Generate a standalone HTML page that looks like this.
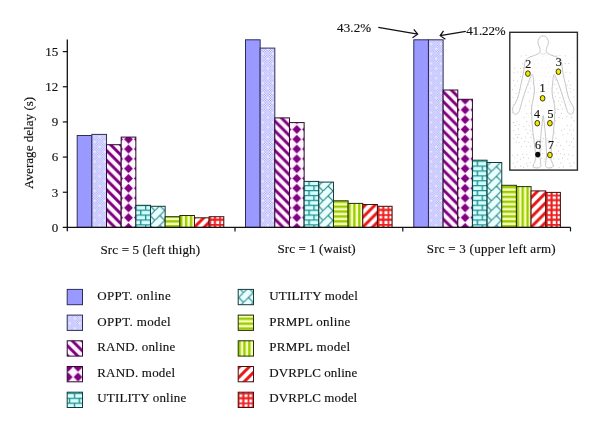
<!DOCTYPE html>
<html><head><meta charset="utf-8"><title>Average delay</title>
<style>
html,body{margin:0;padding:0;background:#fff;}
svg{display:block;}
.t{font-family:"Liberation Serif","DejaVu Serif",serif;font-size:13px;fill:#111;stroke:#111;stroke-width:0.15px;}
.n{font-family:"Liberation Serif","DejaVu Serif",serif;font-size:12px;fill:#111;stroke:#111;stroke-width:0.15px;}
</style></head><body>
<svg width="600" height="430" viewBox="0 0 600 430">
<defs>
<pattern id="dots" patternUnits="userSpaceOnUse" width="8" height="8" patternTransform="translate(0.00,0.00) scale(1.225)"><rect x="-1" y="-1" width="10" height="10" fill="#ffffff"/><rect x="0" y="0" width="1" height="1" fill="#9999ff"/><rect x="2" y="0" width="1" height="1" fill="#9999ff"/><rect x="4" y="0" width="1" height="1" fill="#9999ff"/><rect x="6" y="0" width="1" height="1" fill="#9999ff"/><rect x="1" y="1" width="1" height="1" fill="#9999ff"/><rect x="3" y="1" width="1" height="1" fill="#9999ff"/><rect x="5" y="1" width="1" height="1" fill="#9999ff"/><rect x="7" y="1" width="1" height="1" fill="#9999ff"/><rect x="0" y="2" width="1" height="1" fill="#9999ff"/><rect x="2" y="2" width="1" height="1" fill="#9999ff"/><rect x="4" y="2" width="1" height="1" fill="#9999ff"/><rect x="6" y="2" width="1" height="1" fill="#9999ff"/><rect x="1" y="3" width="1" height="1" fill="#9999ff"/><rect x="3" y="3" width="1" height="1" fill="#9999ff"/><rect x="5" y="3" width="1" height="1" fill="#9999ff"/><rect x="7" y="3" width="1" height="1" fill="#9999ff"/><rect x="0" y="4" width="1" height="1" fill="#9999ff"/><rect x="2" y="4" width="1" height="1" fill="#9999ff"/><rect x="4" y="4" width="1" height="1" fill="#9999ff"/><rect x="6" y="4" width="1" height="1" fill="#9999ff"/><rect x="1" y="5" width="1" height="1" fill="#9999ff"/><rect x="3" y="5" width="1" height="1" fill="#9999ff"/><rect x="5" y="5" width="1" height="1" fill="#9999ff"/><rect x="7" y="5" width="1" height="1" fill="#9999ff"/><rect x="0" y="6" width="1" height="1" fill="#9999ff"/><rect x="2" y="6" width="1" height="1" fill="#9999ff"/><rect x="4" y="6" width="1" height="1" fill="#9999ff"/><rect x="6" y="6" width="1" height="1" fill="#9999ff"/><rect x="1" y="7" width="1" height="1" fill="#9999ff"/><rect x="3" y="7" width="1" height="1" fill="#9999ff"/><rect x="5" y="7" width="1" height="1" fill="#9999ff"/><rect x="7" y="7" width="1" height="1" fill="#9999ff"/><rect x="1.6" y="1.6" width="1.3" height="1.3" fill="#fff" opacity="0.75"/><rect x="5.6" y="5.6" width="1.3" height="1.3" fill="#fff" opacity="0.75"/></pattern>
<pattern id="ddiag" patternUnits="userSpaceOnUse" width="8" height="8" patternTransform="translate(6.56,0.00) scale(1.225)"><rect x="-1" y="-1" width="10" height="10" fill="#fff6ff"/><path d="M-0.15,0H3.15L11.15,8H7.85Z M-8.15,0H-4.85L3.15,8H-0.15Z" fill="#800080"/></pattern>
<pattern id="diam" patternUnits="userSpaceOnUse" width="8" height="8" patternTransform="translate(3.04,-4.29) scale(1.225)"><rect x="-1" y="-1" width="10" height="10" fill="#fff6ff"/><path d="M3.5,-0.1L7.1,3.5L3.5,7.1L-0.1,3.5Z" fill="#800080"/></pattern>
<pattern id="brick" patternUnits="userSpaceOnUse" width="8" height="8" patternTransform="translate(-0.60,-3.10) scale(1.225)"><rect x="-1" y="-1" width="10" height="10" fill="#d6ffff"/><path d="M0,0.5H8M0,4.5H8M0.5,0V4M4.5,4V8" stroke="#1f8f8f" stroke-width="1.15" fill="none"/></pattern>
<pattern id="dbrick" patternUnits="userSpaceOnUse" width="8" height="8" patternTransform="translate(4.40,2.80) scale(1.225)"><rect x="-1" y="-1" width="10" height="10" fill="#eaffff"/><path d="M-1,9L9,-1M4,4L8,8M-4,-4L0,0" stroke="#2a8a8a" stroke-width="0.95" fill="none"/></pattern>
<pattern id="hstr" patternUnits="userSpaceOnUse" width="8" height="8" patternTransform="translate(0.00,-2.33) scale(1.225)"><rect x="-1" y="-1" width="10" height="10" fill="#faffc0"/><path d="M0,1H8M0,5H8" stroke="#99cc00" stroke-width="1.95" fill="none"/></pattern>
<pattern id="vstr" patternUnits="userSpaceOnUse" width="8" height="8" patternTransform="translate(0.18,0.00) scale(1.225)"><rect x="-1" y="-1" width="10" height="10" fill="#faffc0"/><path d="M1,0V8M5,0V8" stroke="#99cc00" stroke-width="1.95" fill="none"/></pattern>
<pattern id="udiag" patternUnits="userSpaceOnUse" width="8" height="8" patternTransform="translate(-2.14,0.00) scale(1.225)"><rect x="-1" y="-1" width="10" height="10" fill="#ffffff"/><path d="M-0.2,8H3.2L11.2,0H7.8Z M-8.2,8H-4.8L3.2,0H-0.2Z" fill="#ea1414"/></pattern>
<pattern id="grid" patternUnits="userSpaceOnUse" width="8" height="8" patternTransform="translate(0.30,-3.36) scale(1.225)"><rect x="-1" y="-1" width="10" height="10" fill="#ffffff"/><path d="M0,0.5H8M0,4.5H8M0.5,0V8M4.5,0V8" stroke="#ee1c1c" stroke-width="1.75" fill="none"/></pattern>
</defs>
<rect width="600" height="430" fill="#fff"/>
<g transform="translate(77.20,227.4)"><rect x="0" y="-91.90" width="14.66" height="91.90" fill="#9999ff" stroke="#2e2e5a" stroke-width="1"/></g>
<g transform="translate(91.86,227.4)"><rect x="0" y="-93.00" width="14.66" height="93.00" fill="url(#dots)" stroke="#2e2e5a" stroke-width="1"/></g>
<g transform="translate(106.52,227.4)"><rect x="0" y="-82.70" width="14.66" height="82.70" fill="url(#ddiag)" stroke="#2e082e" stroke-width="1"/></g>
<g transform="translate(121.18,227.4)"><rect x="0" y="-90.30" width="14.66" height="90.30" fill="url(#diam)" stroke="#2e082e" stroke-width="1"/></g>
<g transform="translate(135.84,227.4)"><rect x="0" y="-22.10" width="14.66" height="22.10" fill="url(#brick)" stroke="#123a3a" stroke-width="1"/></g>
<g transform="translate(150.50,227.4)"><rect x="0" y="-21.10" width="14.66" height="21.10" fill="url(#dbrick)" stroke="#123a3a" stroke-width="1"/></g>
<g transform="translate(165.16,227.4)"><rect x="0" y="-10.70" width="14.66" height="10.70" fill="url(#hstr)" stroke="#252e08" stroke-width="1"/></g>
<g transform="translate(179.82,227.4)"><rect x="0" y="-11.90" width="14.66" height="11.90" fill="url(#vstr)" stroke="#252e08" stroke-width="1"/></g>
<g transform="translate(194.48,227.4)"><rect x="0" y="-9.60" width="14.66" height="9.60" fill="url(#udiag)" stroke="#471010" stroke-width="1"/></g>
<g transform="translate(209.14,227.4)"><rect x="0" y="-10.70" width="14.66" height="10.70" fill="url(#grid)" stroke="#471010" stroke-width="1"/></g>
<g transform="translate(245.50,227.4)"><rect x="0" y="-187.60" width="14.66" height="187.60" fill="#9999ff" stroke="#2e2e5a" stroke-width="1"/></g>
<g transform="translate(260.16,227.4)"><rect x="0" y="-179.30" width="14.66" height="179.30" fill="url(#dots)" stroke="#2e2e5a" stroke-width="1"/></g>
<g transform="translate(274.82,227.4)"><rect x="0" y="-109.50" width="14.66" height="109.50" fill="url(#ddiag)" stroke="#2e082e" stroke-width="1"/></g>
<g transform="translate(289.48,227.4)"><rect x="0" y="-104.80" width="14.66" height="104.80" fill="url(#diam)" stroke="#2e082e" stroke-width="1"/></g>
<g transform="translate(304.14,227.4)"><rect x="0" y="-46.00" width="14.66" height="46.00" fill="url(#brick)" stroke="#123a3a" stroke-width="1"/></g>
<g transform="translate(318.80,227.4)"><rect x="0" y="-45.30" width="14.66" height="45.30" fill="url(#dbrick)" stroke="#123a3a" stroke-width="1"/></g>
<g transform="translate(333.46,227.4)"><rect x="0" y="-26.60" width="14.66" height="26.60" fill="url(#hstr)" stroke="#252e08" stroke-width="1"/></g>
<g transform="translate(348.12,227.4)"><rect x="0" y="-24.00" width="14.66" height="24.00" fill="url(#vstr)" stroke="#252e08" stroke-width="1"/></g>
<g transform="translate(362.78,227.4)"><rect x="0" y="-22.90" width="14.66" height="22.90" fill="url(#udiag)" stroke="#471010" stroke-width="1"/></g>
<g transform="translate(377.44,227.4)"><rect x="0" y="-21.10" width="14.66" height="21.10" fill="url(#grid)" stroke="#471010" stroke-width="1"/></g>
<g transform="translate(413.80,227.4)"><rect x="0" y="-187.60" width="14.66" height="187.60" fill="#9999ff" stroke="#2e2e5a" stroke-width="1"/></g>
<g transform="translate(428.46,227.4)"><rect x="0" y="-187.60" width="14.66" height="187.60" fill="url(#dots)" stroke="#2e2e5a" stroke-width="1"/></g>
<g transform="translate(443.12,227.4)"><rect x="0" y="-137.40" width="14.66" height="137.40" fill="url(#ddiag)" stroke="#2e082e" stroke-width="1"/></g>
<g transform="translate(457.78,227.4)"><rect x="0" y="-128.10" width="14.66" height="128.10" fill="url(#diam)" stroke="#2e082e" stroke-width="1"/></g>
<g transform="translate(472.44,227.4)"><rect x="0" y="-67.20" width="14.66" height="67.20" fill="url(#brick)" stroke="#123a3a" stroke-width="1"/></g>
<g transform="translate(487.10,227.4)"><rect x="0" y="-64.90" width="14.66" height="64.90" fill="url(#dbrick)" stroke="#123a3a" stroke-width="1"/></g>
<g transform="translate(501.76,227.4)"><rect x="0" y="-42.10" width="14.66" height="42.10" fill="url(#hstr)" stroke="#252e08" stroke-width="1"/></g>
<g transform="translate(516.42,227.4)"><rect x="0" y="-40.80" width="14.66" height="40.80" fill="url(#vstr)" stroke="#252e08" stroke-width="1"/></g>
<g transform="translate(531.08,227.4)"><rect x="0" y="-36.50" width="14.66" height="36.50" fill="url(#udiag)" stroke="#471010" stroke-width="1"/></g>
<g transform="translate(545.74,227.4)"><rect x="0" y="-35.00" width="14.66" height="35.00" fill="url(#grid)" stroke="#471010" stroke-width="1"/></g>
<path d="M67.3,39.5V231.20000000000002" stroke="#111" stroke-width="1.3" fill="none"/>
<path d="M62.8,227.4H570.5" stroke="#111" stroke-width="1.3" fill="none"/>
<path d="M62.8,192.24H67.3" stroke="#111" stroke-width="1.2"/>
<path d="M62.8,157.08H67.3" stroke="#111" stroke-width="1.2"/>
<path d="M62.8,121.92H67.3" stroke="#111" stroke-width="1.2"/>
<path d="M62.8,86.76H67.3" stroke="#111" stroke-width="1.2"/>
<path d="M62.8,51.60H67.3" stroke="#111" stroke-width="1.2"/>
<path d="M235.0,227.4V231.4" stroke="#111" stroke-width="1.2"/>
<path d="M402.8,227.4V231.4" stroke="#111" stroke-width="1.2"/>
<path d="M570.5,227.4V231.4" stroke="#111" stroke-width="1.2"/>
<text x="58.2" y="231.80" text-anchor="end" class="t">0</text>
<text x="58.2" y="196.64" text-anchor="end" class="t">3</text>
<text x="58.2" y="161.48" text-anchor="end" class="t">6</text>
<text x="58.2" y="126.32" text-anchor="end" class="t">9</text>
<text x="58.2" y="91.16" text-anchor="end" class="t">12</text>
<text x="58.2" y="56.00" text-anchor="end" class="t">15</text>
<text x="100.5" y="253.5" textLength="99.6" class="t">Src = 5 (left thigh)</text>
<text x="277.5" y="253.3" textLength="78.2" class="t">Src = 1 (waist)</text>
<text x="426.7" y="253.0" textLength="129.0" class="t">Src = 3 (upper left arm)</text>
<text transform="translate(32.5,188.9) rotate(-90)" textLength="92.1" class="t">Average delay (s)</text>
<text x="337" y="31.5" textLength="34.2" class="t">43.2%</text>
<text x="466.2" y="34.9" textLength="39.5" class="t">41.22%</text>
<path d="M378.3,27.4L417.7,34.2M413.75,29.3L417.7,34.2L412.5,37.7" stroke="#111" stroke-width="1.25" fill="none"/>
<path d="M465.8,31.3L440.2,35.7M443.5,30.8L440.2,35.7L445.4,39.2" stroke="#111" stroke-width="1.25" fill="none"/>
<rect x="509.8" y="32.3" width="67.6" height="137.8" fill="#fff" stroke="#2a2a2a" stroke-width="1.4"/>
<g fill="#c9c5c5"><circle cx="521.2" cy="56.0" r="0.55"/><circle cx="526.2" cy="55.2" r="0.55"/><circle cx="530.5" cy="56.6" r="0.55"/><circle cx="542.7" cy="56.6" r="0.55"/><circle cx="547.2" cy="55.3" r="0.55"/><circle cx="552.7" cy="55.4" r="0.55"/><circle cx="556.7" cy="55.8" r="0.55"/><circle cx="559.9" cy="55.2" r="0.55"/><circle cx="565.3" cy="55.9" r="0.55"/><circle cx="527.8" cy="60.1" r="0.55"/><circle cx="533.0" cy="60.6" r="0.55"/><circle cx="537.7" cy="59.8" r="0.55"/><circle cx="541.5" cy="60.2" r="0.55"/><circle cx="546.2" cy="60.9" r="0.55"/><circle cx="550.2" cy="59.3" r="0.55"/><circle cx="558.1" cy="59.9" r="0.55"/><circle cx="561.9" cy="60.0" r="0.55"/><circle cx="522.7" cy="63.8" r="0.55"/><circle cx="530.0" cy="63.6" r="0.55"/><circle cx="534.4" cy="64.2" r="0.55"/><circle cx="538.8" cy="63.3" r="0.55"/><circle cx="548.1" cy="64.2" r="0.55"/><circle cx="560.5" cy="64.0" r="0.55"/><circle cx="565.2" cy="63.4" r="0.55"/><circle cx="568.8" cy="63.6" r="0.55"/><circle cx="514.8" cy="68.1" r="0.55"/><circle cx="520.5" cy="68.5" r="0.55"/><circle cx="523.7" cy="68.0" r="0.55"/><circle cx="532.6" cy="68.3" r="0.55"/><circle cx="536.3" cy="68.0" r="0.55"/><circle cx="541.9" cy="67.7" r="0.55"/><circle cx="546.4" cy="68.4" r="0.55"/><circle cx="550.0" cy="67.4" r="0.55"/><circle cx="555.1" cy="69.0" r="0.55"/><circle cx="558.1" cy="68.1" r="0.55"/><circle cx="514.0" cy="72.8" r="0.55"/><circle cx="517.7" cy="72.1" r="0.55"/><circle cx="521.2" cy="72.0" r="0.55"/><circle cx="526.6" cy="73.2" r="0.55"/><circle cx="534.7" cy="71.9" r="0.55"/><circle cx="538.7" cy="71.9" r="0.55"/><circle cx="544.2" cy="73.0" r="0.55"/><circle cx="548.1" cy="72.9" r="0.55"/><circle cx="556.9" cy="72.4" r="0.55"/><circle cx="565.8" cy="72.2" r="0.55"/><circle cx="570.1" cy="72.8" r="0.55"/><circle cx="520.7" cy="76.8" r="0.55"/><circle cx="524.2" cy="75.8" r="0.55"/><circle cx="529.2" cy="76.8" r="0.55"/><circle cx="537.6" cy="76.0" r="0.55"/><circle cx="540.9" cy="76.0" r="0.55"/><circle cx="545.2" cy="76.4" r="0.55"/><circle cx="550.6" cy="76.2" r="0.55"/><circle cx="554.4" cy="77.2" r="0.55"/><circle cx="559.3" cy="76.5" r="0.55"/><circle cx="562.8" cy="75.6" r="0.55"/><circle cx="513.5" cy="80.3" r="0.55"/><circle cx="517.8" cy="81.1" r="0.55"/><circle cx="522.1" cy="80.1" r="0.55"/><circle cx="526.8" cy="80.6" r="0.55"/><circle cx="531.1" cy="81.3" r="0.55"/><circle cx="535.1" cy="80.6" r="0.55"/><circle cx="539.5" cy="80.5" r="0.55"/><circle cx="543.5" cy="81.4" r="0.55"/><circle cx="548.5" cy="81.4" r="0.55"/><circle cx="555.7" cy="79.9" r="0.55"/><circle cx="559.9" cy="80.1" r="0.55"/><circle cx="568.7" cy="81.0" r="0.55"/><circle cx="515.0" cy="85.5" r="0.55"/><circle cx="523.5" cy="84.6" r="0.55"/><circle cx="528.1" cy="84.2" r="0.55"/><circle cx="533.1" cy="83.8" r="0.55"/><circle cx="536.9" cy="83.8" r="0.55"/><circle cx="541.5" cy="84.7" r="0.55"/><circle cx="549.2" cy="84.3" r="0.55"/><circle cx="554.7" cy="84.3" r="0.55"/><circle cx="567.2" cy="85.1" r="0.55"/><circle cx="570.6" cy="85.0" r="0.55"/><circle cx="512.6" cy="89.6" r="0.55"/><circle cx="521.2" cy="89.5" r="0.55"/><circle cx="530.2" cy="88.1" r="0.55"/><circle cx="534.4" cy="88.1" r="0.55"/><circle cx="538.4" cy="88.3" r="0.55"/><circle cx="543.1" cy="89.3" r="0.55"/><circle cx="547.8" cy="88.2" r="0.55"/><circle cx="551.2" cy="88.4" r="0.55"/><circle cx="556.8" cy="88.9" r="0.55"/><circle cx="560.7" cy="89.6" r="0.55"/><circle cx="565.6" cy="88.7" r="0.55"/><circle cx="569.9" cy="88.6" r="0.55"/><circle cx="573.9" cy="89.7" r="0.55"/><circle cx="516.1" cy="93.3" r="0.55"/><circle cx="519.6" cy="92.6" r="0.55"/><circle cx="528.0" cy="92.3" r="0.55"/><circle cx="533.3" cy="93.6" r="0.55"/><circle cx="536.6" cy="92.4" r="0.55"/><circle cx="541.2" cy="92.3" r="0.55"/><circle cx="553.9" cy="92.6" r="0.55"/><circle cx="558.3" cy="92.9" r="0.55"/><circle cx="562.3" cy="92.9" r="0.55"/><circle cx="566.7" cy="92.2" r="0.55"/><circle cx="570.6" cy="92.0" r="0.55"/><circle cx="512.9" cy="97.2" r="0.55"/><circle cx="518.2" cy="97.3" r="0.55"/><circle cx="522.7" cy="96.8" r="0.55"/><circle cx="539.8" cy="96.4" r="0.55"/><circle cx="552.4" cy="97.3" r="0.55"/><circle cx="555.6" cy="96.3" r="0.55"/><circle cx="560.0" cy="97.6" r="0.55"/><circle cx="565.2" cy="97.2" r="0.55"/><circle cx="574.0" cy="97.0" r="0.55"/><circle cx="519.4" cy="100.3" r="0.55"/><circle cx="529.3" cy="101.1" r="0.55"/><circle cx="537.2" cy="101.4" r="0.55"/><circle cx="545.2" cy="101.2" r="0.55"/><circle cx="549.1" cy="100.7" r="0.55"/><circle cx="554.5" cy="101.4" r="0.55"/><circle cx="558.5" cy="101.0" r="0.55"/><circle cx="562.1" cy="101.8" r="0.55"/><circle cx="568.0" cy="101.9" r="0.55"/><circle cx="513.3" cy="104.8" r="0.55"/><circle cx="518.5" cy="104.7" r="0.55"/><circle cx="525.6" cy="105.8" r="0.55"/><circle cx="531.3" cy="105.6" r="0.55"/><circle cx="535.6" cy="105.2" r="0.55"/><circle cx="538.3" cy="105.2" r="0.55"/><circle cx="543.1" cy="104.6" r="0.55"/><circle cx="547.5" cy="105.8" r="0.55"/><circle cx="552.6" cy="105.8" r="0.55"/><circle cx="560.3" cy="105.0" r="0.55"/><circle cx="565.9" cy="105.4" r="0.55"/><circle cx="569.2" cy="104.8" r="0.55"/><circle cx="572.9" cy="105.8" r="0.55"/><circle cx="516.3" cy="108.8" r="0.55"/><circle cx="519.8" cy="108.7" r="0.55"/><circle cx="532.8" cy="109.7" r="0.55"/><circle cx="541.6" cy="108.9" r="0.55"/><circle cx="546.4" cy="108.6" r="0.55"/><circle cx="555.1" cy="108.9" r="0.55"/><circle cx="558.1" cy="109.4" r="0.55"/><circle cx="562.2" cy="108.7" r="0.55"/><circle cx="567.8" cy="109.3" r="0.55"/><circle cx="572.1" cy="110.2" r="0.55"/><circle cx="512.8" cy="112.8" r="0.55"/><circle cx="517.4" cy="112.7" r="0.55"/><circle cx="526.7" cy="113.2" r="0.55"/><circle cx="530.6" cy="113.2" r="0.55"/><circle cx="538.5" cy="113.4" r="0.55"/><circle cx="544.2" cy="112.9" r="0.55"/><circle cx="547.3" cy="113.2" r="0.55"/><circle cx="555.5" cy="112.6" r="0.55"/><circle cx="561.4" cy="113.4" r="0.55"/><circle cx="573.1" cy="112.7" r="0.55"/><circle cx="524.0" cy="117.6" r="0.55"/><circle cx="533.0" cy="117.1" r="0.55"/><circle cx="536.6" cy="117.7" r="0.55"/><circle cx="540.6" cy="116.7" r="0.55"/><circle cx="545.7" cy="117.3" r="0.55"/><circle cx="550.1" cy="116.6" r="0.55"/><circle cx="554.1" cy="118.3" r="0.55"/><circle cx="559.2" cy="117.5" r="0.55"/><circle cx="562.3" cy="118.3" r="0.55"/><circle cx="566.8" cy="116.6" r="0.55"/><circle cx="571.7" cy="117.4" r="0.55"/><circle cx="513.7" cy="122.4" r="0.55"/><circle cx="516.9" cy="121.3" r="0.55"/><circle cx="526.7" cy="121.6" r="0.55"/><circle cx="538.8" cy="122.4" r="0.55"/><circle cx="542.9" cy="121.1" r="0.55"/><circle cx="548.1" cy="122.4" r="0.55"/><circle cx="555.8" cy="120.8" r="0.55"/><circle cx="574.0" cy="120.8" r="0.55"/><circle cx="515.3" cy="125.5" r="0.55"/><circle cx="519.2" cy="124.8" r="0.55"/><circle cx="523.8" cy="126.5" r="0.55"/><circle cx="529.2" cy="125.2" r="0.55"/><circle cx="533.3" cy="126.3" r="0.55"/><circle cx="536.2" cy="125.7" r="0.55"/><circle cx="542.1" cy="125.1" r="0.55"/><circle cx="546.3" cy="124.9" r="0.55"/><circle cx="550.5" cy="126.2" r="0.55"/><circle cx="567.3" cy="125.3" r="0.55"/><circle cx="571.1" cy="125.3" r="0.55"/><circle cx="513.9" cy="130.5" r="0.55"/><circle cx="518.5" cy="128.9" r="0.55"/><circle cx="526.1" cy="129.4" r="0.55"/><circle cx="530.6" cy="130.6" r="0.55"/><circle cx="539.7" cy="130.0" r="0.55"/><circle cx="551.6" cy="129.0" r="0.55"/><circle cx="561.4" cy="130.7" r="0.55"/><circle cx="564.3" cy="129.1" r="0.55"/><circle cx="569.7" cy="129.7" r="0.55"/><circle cx="573.5" cy="130.0" r="0.55"/><circle cx="515.9" cy="134.5" r="0.55"/><circle cx="519.1" cy="134.5" r="0.55"/><circle cx="527.9" cy="133.4" r="0.55"/><circle cx="532.1" cy="134.6" r="0.55"/><circle cx="545.9" cy="134.8" r="0.55"/><circle cx="554.9" cy="133.1" r="0.55"/><circle cx="562.9" cy="134.7" r="0.55"/><circle cx="567.8" cy="133.8" r="0.55"/><circle cx="571.9" cy="134.7" r="0.55"/><circle cx="513.6" cy="138.2" r="0.55"/><circle cx="517.5" cy="137.4" r="0.55"/><circle cx="521.6" cy="138.2" r="0.55"/><circle cx="525.8" cy="137.1" r="0.55"/><circle cx="530.9" cy="137.4" r="0.55"/><circle cx="534.4" cy="138.5" r="0.55"/><circle cx="538.4" cy="137.3" r="0.55"/><circle cx="543.6" cy="138.3" r="0.55"/><circle cx="547.2" cy="138.4" r="0.55"/><circle cx="556.1" cy="138.1" r="0.55"/><circle cx="573.5" cy="138.6" r="0.55"/><circle cx="516.2" cy="142.0" r="0.55"/><circle cx="518.9" cy="142.2" r="0.55"/><circle cx="524.8" cy="141.4" r="0.55"/><circle cx="528.2" cy="142.1" r="0.55"/><circle cx="542.1" cy="141.6" r="0.55"/><circle cx="546.4" cy="143.0" r="0.55"/><circle cx="549.1" cy="142.9" r="0.55"/><circle cx="557.9" cy="142.6" r="0.55"/><circle cx="566.5" cy="141.6" r="0.55"/><circle cx="571.4" cy="141.9" r="0.55"/><circle cx="521.2" cy="146.8" r="0.55"/><circle cx="526.5" cy="146.3" r="0.55"/><circle cx="530.3" cy="146.1" r="0.55"/><circle cx="534.8" cy="146.5" r="0.55"/><circle cx="539.1" cy="145.3" r="0.55"/><circle cx="548.3" cy="146.1" r="0.55"/><circle cx="552.1" cy="145.5" r="0.55"/><circle cx="556.3" cy="145.5" r="0.55"/><circle cx="560.7" cy="145.4" r="0.55"/><circle cx="569.3" cy="145.4" r="0.55"/><circle cx="573.4" cy="147.0" r="0.55"/><circle cx="536.4" cy="151.0" r="0.55"/><circle cx="541.9" cy="149.7" r="0.55"/><circle cx="546.4" cy="149.8" r="0.55"/><circle cx="549.9" cy="150.0" r="0.55"/><circle cx="558.8" cy="151.0" r="0.55"/><circle cx="563.3" cy="149.6" r="0.55"/><circle cx="512.7" cy="155.3" r="0.55"/><circle cx="517.5" cy="154.9" r="0.55"/><circle cx="522.9" cy="154.5" r="0.55"/><circle cx="526.8" cy="154.3" r="0.55"/><circle cx="539.4" cy="154.7" r="0.55"/><circle cx="542.6" cy="153.6" r="0.55"/><circle cx="548.0" cy="154.3" r="0.55"/><circle cx="552.8" cy="153.7" r="0.55"/><circle cx="556.7" cy="153.5" r="0.55"/><circle cx="560.4" cy="153.7" r="0.55"/><circle cx="564.5" cy="154.6" r="0.55"/><circle cx="568.8" cy="154.6" r="0.55"/><circle cx="572.9" cy="155.2" r="0.55"/><circle cx="514.9" cy="157.8" r="0.55"/><circle cx="520.5" cy="159.0" r="0.55"/><circle cx="523.7" cy="157.6" r="0.55"/><circle cx="528.5" cy="158.2" r="0.55"/><circle cx="536.5" cy="159.2" r="0.55"/><circle cx="541.4" cy="158.3" r="0.55"/><circle cx="544.8" cy="159.0" r="0.55"/><circle cx="550.0" cy="159.3" r="0.55"/><circle cx="553.7" cy="158.7" r="0.55"/><circle cx="558.8" cy="159.1" r="0.55"/><circle cx="562.5" cy="158.1" r="0.55"/><circle cx="567.8" cy="159.0" r="0.55"/><circle cx="513.3" cy="163.0" r="0.55"/><circle cx="517.2" cy="161.9" r="0.55"/><circle cx="526.7" cy="163.2" r="0.55"/><circle cx="530.2" cy="162.7" r="0.55"/><circle cx="535.4" cy="162.6" r="0.55"/><circle cx="539.5" cy="163.4" r="0.55"/><circle cx="544.2" cy="161.7" r="0.55"/><circle cx="560.9" cy="162.9" r="0.55"/><circle cx="569.7" cy="163.2" r="0.55"/><circle cx="574.0" cy="162.7" r="0.55"/><circle cx="515.0" cy="166.9" r="0.55"/><circle cx="520.5" cy="166.1" r="0.55"/><circle cx="523.4" cy="167.5" r="0.55"/><circle cx="527.8" cy="165.9" r="0.55"/><circle cx="533.0" cy="166.9" r="0.55"/><circle cx="537.4" cy="165.9" r="0.55"/><circle cx="550.6" cy="167.5" r="0.55"/><circle cx="553.7" cy="166.0" r="0.55"/><circle cx="559.1" cy="167.3" r="0.55"/><circle cx="563.4" cy="166.9" r="0.55"/><circle cx="570.9" cy="166.4" r="0.55"/></g>
<path d="M543.2,35.8C542.2,35.8 541.0,36.2 540.2,37.0C539.4,37.8 538.5,39.3 538.2,40.5C537.9,41.7 538.0,42.9 538.2,44.0C538.4,45.1 539.3,46.3 539.6,47.2C539.9,48.1 540.1,48.6 540.1,49.5C540.1,50.4 540.5,51.4 539.8,52.3C539.1,53.2 537.8,53.9 536.0,54.8C534.2,55.7 530.6,56.5 528.8,57.6C527.0,58.7 526.1,59.1 525.2,61.5C524.3,63.9 524.3,68.1 523.6,72.0C522.9,75.9 521.7,80.8 520.8,85.0C519.9,89.2 519.0,93.8 518.0,97.0C517.0,100.2 515.5,102.7 514.6,104.5C513.7,106.3 512.8,106.7 512.6,108.0C512.4,109.3 512.7,111.5 513.2,112.5C513.7,113.5 514.7,114.3 515.6,114.3C516.5,114.3 517.6,113.6 518.4,112.6C519.2,111.5 519.5,110.3 520.2,108.0C520.9,105.7 521.8,102.3 522.8,99.0C523.8,95.7 525.2,91.5 526.4,88.0C527.6,84.5 529.2,80.2 530.2,78.0C531.2,75.8 532.0,73.9 532.6,74.6C533.2,75.3 533.3,79.1 533.6,82.0C533.9,84.9 534.5,89.0 534.4,92.0C534.3,95.0 533.5,97.3 533.0,100.0C532.5,102.7 531.8,104.7 531.6,108.0C531.4,111.3 531.8,115.8 532.0,120.0C532.2,124.2 532.7,129.3 533.1,133.5C533.5,137.7 534.2,141.4 534.6,145.0C535.0,148.6 535.5,152.6 535.6,155.3C535.7,158.0 535.4,159.4 535.0,161.0C534.6,162.6 533.3,163.9 533.2,165.0C533.1,166.1 533.4,166.9 534.2,167.4C535.0,167.9 536.9,168.1 538.0,167.9C539.1,167.7 540.4,167.5 540.8,166.4C541.2,165.3 540.6,163.3 540.5,161.5C540.4,159.7 539.9,158.9 539.9,155.3C539.9,151.7 540.3,144.6 540.6,140.0C540.9,135.4 541.2,131.8 541.6,128.0C542.0,124.2 542.6,118.8 542.9,116.9C543.2,115.1 543.2,115.1 543.5,116.9C543.8,118.8 544.4,124.2 544.8,128.0C545.2,131.8 545.5,135.4 545.8,140.0C546.1,144.6 546.5,151.7 546.5,155.3C546.5,158.9 546.1,159.7 545.9,161.5C545.8,163.3 545.2,165.3 545.6,166.4C546.0,167.5 547.3,167.7 548.4,167.9C549.5,168.1 551.4,167.9 552.2,167.4C553.0,166.9 553.3,166.1 553.2,165.0C553.1,163.9 551.8,162.6 551.4,161.0C551.0,159.4 550.7,158.0 550.8,155.3C550.9,152.6 551.4,148.6 551.8,145.0C552.2,141.4 552.9,137.7 553.3,133.5C553.7,129.3 554.2,124.2 554.4,120.0C554.7,115.8 555.0,111.3 554.8,108.0C554.6,104.7 553.9,102.7 553.4,100.0C552.9,97.3 552.1,95.0 552.0,92.0C551.9,89.0 552.5,84.9 552.8,82.0C553.1,79.1 553.2,75.3 553.8,74.6C554.4,73.9 555.2,75.8 556.2,78.0C557.2,80.2 558.8,84.5 560.0,88.0C561.2,91.5 562.6,95.7 563.6,99.0C564.6,102.3 565.5,105.7 566.2,108.0C566.9,110.3 567.2,111.5 568.0,112.6C568.8,113.6 569.9,114.3 570.8,114.3C571.7,114.3 572.7,113.5 573.2,112.5C573.7,111.5 574.0,109.3 573.8,108.0C573.6,106.7 572.7,106.3 571.8,104.5C570.9,102.7 569.4,100.2 568.4,97.0C567.4,93.8 566.5,89.2 565.6,85.0C564.7,80.8 563.5,75.9 562.8,72.0C562.1,68.1 562.1,63.9 561.2,61.5C560.3,59.1 559.4,58.7 557.6,57.6C555.8,56.5 552.2,55.7 550.4,54.8C548.6,53.9 547.3,53.2 546.6,52.3C545.9,51.4 546.3,50.4 546.3,49.5C546.3,48.6 546.5,48.1 546.8,47.2C547.1,46.3 548.0,45.1 548.2,44.0C548.4,42.9 548.5,41.7 548.2,40.5C547.9,39.3 547.0,37.8 546.2,37.0C545.4,36.2 544.2,35.8 543.2,35.8Z" fill="#fff" fill-opacity="0.65" stroke="#b9b9b9" stroke-width="0.8" stroke-linejoin="round"/>
<path d="M539.9,52.6C541.5,54.6 545,54.6 546.5,52.6M536.4,139.5C537.5,140.8 539,140.8 540,139.6M546.4,139.6C547.4,140.8 549,140.8 550,139.5" fill="none" stroke="#d0d0d0" stroke-width="0.7"/>
<ellipse cx="542.6" cy="98.3" rx="2.35" ry="2.8" fill="#f4ea00" stroke="#3a3a10" stroke-width="1"/>
<text x="542.6" y="91.8" text-anchor="middle" class="n">1</text>
<ellipse cx="527.9" cy="73.6" rx="2.35" ry="2.8" fill="#f4ea00" stroke="#3a3a10" stroke-width="1"/>
<text x="528.2" y="68.2" text-anchor="middle" class="n">2</text>
<ellipse cx="558.4" cy="71.7" rx="2.35" ry="2.8" fill="#f4ea00" stroke="#3a3a10" stroke-width="1"/>
<text x="558.8" y="65.6" text-anchor="middle" class="n">3</text>
<ellipse cx="537.3" cy="123.2" rx="2.35" ry="2.8" fill="#f4ea00" stroke="#3a3a10" stroke-width="1"/>
<text x="536.9" y="117.6" text-anchor="middle" class="n">4</text>
<ellipse cx="549.9" cy="123.2" rx="2.35" ry="2.8" fill="#f4ea00" stroke="#3a3a10" stroke-width="1"/>
<text x="550.5" y="117.6" text-anchor="middle" class="n">5</text>
<ellipse cx="537.8" cy="154.6" rx="2.6" ry="2.8" fill="#0a0a0a"/>
<text x="538.0" y="149.0" text-anchor="middle" class="n">6</text>
<ellipse cx="549.9" cy="155.0" rx="2.35" ry="2.8" fill="#f4ea00" stroke="#3a3a10" stroke-width="1"/>
<text x="551.0" y="149.3" text-anchor="middle" class="n">7</text>
<g transform="translate(67.20,304.70)"><rect x="0" y="-15.30" width="15.3" height="15.3" fill="#9999ff" stroke="#2e2e5a" stroke-width="1"/></g>
<text x="97.2" y="300.40" textLength="73.5" class="t">OPPT. online</text>
<g transform="translate(67.20,330.40)"><rect x="0" y="-15.30" width="15.3" height="15.3" fill="url(#dots)" stroke="#2e2e5a" stroke-width="1"/></g>
<text x="97.2" y="325.90" textLength="73.5" class="t">OPPT. model</text>
<g transform="translate(59.60,356.10)"><rect x="7.6" y="-15.30" width="15.3" height="15.3" fill="url(#ddiag)" stroke="#2e082e" stroke-width="1"/></g>
<text x="97.2" y="351.40" textLength="78" class="t">RAND. online</text>
<g transform="translate(60.87,377.00)"><rect x="6.33" y="-10.50" width="15.3" height="15.3" fill="url(#diam)" stroke="#2e082e" stroke-width="1"/></g>
<text x="97.2" y="376.90" textLength="78" class="t">RAND. model</text>
<g transform="translate(64.60,405.70)"><rect x="2.6" y="-13.50" width="15.3" height="15.3" fill="url(#brick)" stroke="#123a3a" stroke-width="1"/></g>
<text x="97.2" y="402.40" textLength="89" class="t">UTILITY online</text>
<g transform="translate(229.35,299.60)"><rect x="8.85" y="-10.20" width="15.3" height="15.3" fill="url(#dbrick)" stroke="#123a3a" stroke-width="1"/></g>
<text x="269.2" y="300.40" textLength="88.7" class="t">UTILITY model</text>
<g transform="translate(238.20,329.70)"><rect x="0" y="-14.60" width="15.3" height="15.3" fill="url(#hstr)" stroke="#252e08" stroke-width="1"/></g>
<text x="269.2" y="325.90" textLength="81" class="t">PRMPL online</text>
<g transform="translate(238.20,356.10)"><rect x="0" y="-15.30" width="15.3" height="15.3" fill="url(#vstr)" stroke="#252e08" stroke-width="1"/></g>
<text x="269.2" y="351.40" textLength="81" class="t">PRMPL model</text>
<g transform="translate(234.60,381.80)"><rect x="3.6" y="-15.30" width="15.3" height="15.3" fill="url(#udiag)" stroke="#471010" stroke-width="1"/></g>
<text x="269.2" y="376.90" textLength="88" class="t">DVRPLC online</text>
<g transform="translate(237.50,405.85)"><rect x="0.7" y="-13.65" width="15.3" height="15.3" fill="url(#grid)" stroke="#471010" stroke-width="1"/></g>
<text x="269.2" y="402.40" textLength="88" class="t">DVRPLC model</text>
</svg>
</body></html>
